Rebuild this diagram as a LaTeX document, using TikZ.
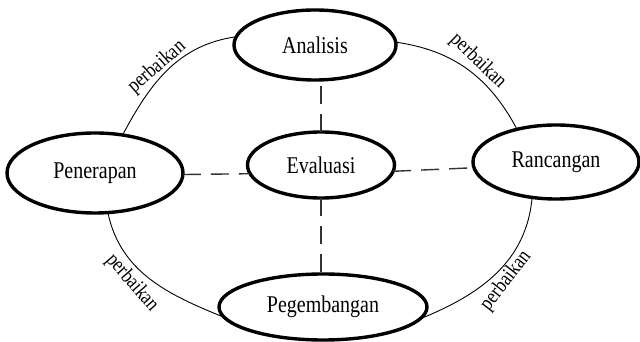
\documentclass[tikz,border=0pt]{standalone}
\usepackage{fontspec}
\setmainfont{Liberation Serif}
\usetikzlibrary{shapes.geometric}
\tikzset{
  stage/.style={ellipse, draw, line width=3.4pt, inner sep=0pt, outer sep=0pt,
    font=\fontsize{20}{24}\selectfont},
  loopline/.style={line width=0.9pt},
  dashline/.style={line width=1.4pt, draw=black!80, dash pattern=on 18pt off 10pt},
  fixlabel/.style={font=\fontsize{17.5}{20}\selectfont, inner sep=0pt}
}
\newcommand{\tallt}[1]{\scalebox{1}[1.2]{#1}}
\begin{document}
\begin{tikzpicture}[x=1pt,y=1pt]
\useasboundingbox (0,0) rectangle (640,342);
\node[stage, minimum width=162pt, minimum height=70pt] (ana) at (315,297) {\tallt{Analisis}};
\node[stage, minimum width=147pt, minimum height=66pt] (eva) at (321,177) {\tallt{Evaluasi}};
\node[stage, minimum width=176pt, minimum height=80pt] (pen) at (95,169) {\tallt{Penerapan}};
\node[stage, minimum width=166pt, minimum height=74pt] (ran) at (556,180) {\tallt{Rancangan}};
\node[stage, minimum width=208pt, minimum height=66pt] (peg) at (323,35) {\tallt{Pegembangan}};

\draw[loopline] (pen.54) to[out=62,in=188] (ana.174);
\draw[loopline] (ana.2) to[out=-8,in=118] (ran.140);
\draw[loopline] (pen.-72) to[out=-78,in=158] (peg.186);
\draw[loopline] (ran.236) to[out=-95,in=22] (peg.-7);

\draw[dashline] (eva.north) -- (eva.north |- ana.south);
\draw[dashline] (eva.south) -- (eva.south |- peg.north);
\draw[dashline] (pen.-1) -- (eva.187);
\draw[dashline] (eva.-5) -- (ran.184);

\node[fixlabel, rotate=41] (l1) at (157,275) {\tallt{perbaikan}};
\node[fixlabel, rotate=-44] (l2) at (478,281) {\tallt{perbaikan}};
\node[fixlabel, rotate=-49] (l3) at (132,59) {\tallt{perbaikan}};
\node[fixlabel, rotate=52] (l4) at (506,61) {\tallt{perbaikan}};
\end{tikzpicture}
\end{document}
